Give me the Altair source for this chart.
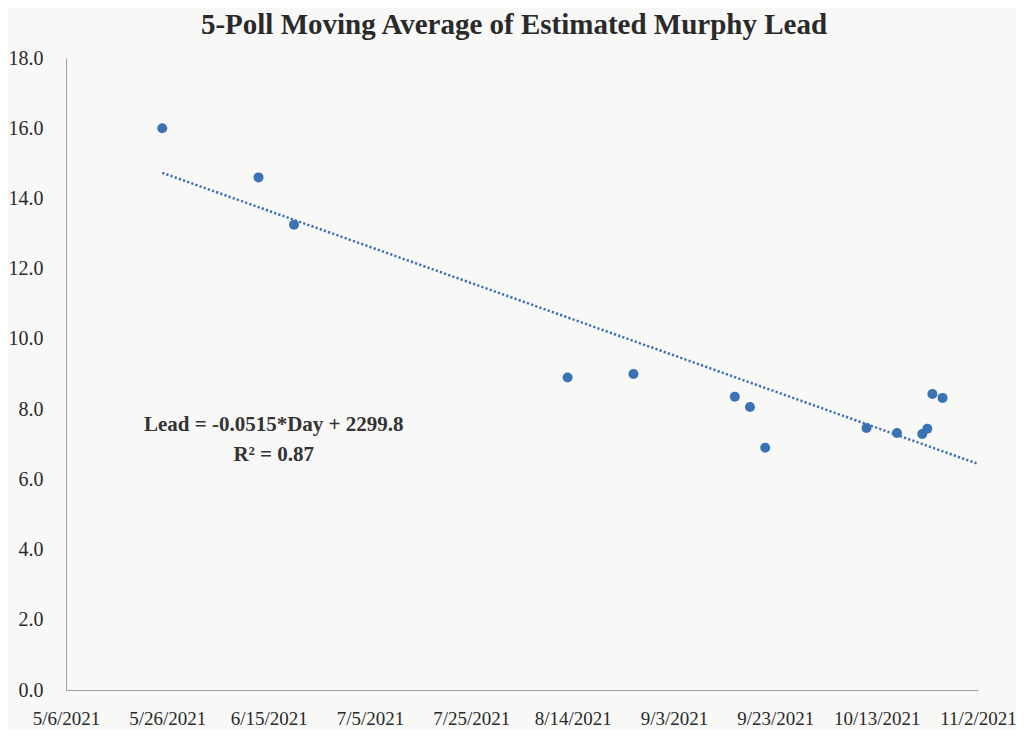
import altair as alt
import pandas as pd

# Data
dates = ["2021-05-25", "2021-06-13", "2021-06-20", "2021-08-13", "2021-08-26",
         "2021-09-15", "2021-09-18", "2021-09-21", "2021-10-11", "2021-10-17",
         "2021-10-22", "2021-10-23", "2021-10-24", "2021-10-26"]
leads = [16.0, 14.6, 13.25, 8.9, 9.0, 8.35, 8.06, 6.9, 7.46, 7.32, 7.29, 7.44, 8.43, 8.32]

trend_dates = ["2021-05-25", "2021-11-02"]
trend_values = [14.73, 6.44]

note_dates = ["2021-06-16", "2021-06-16"]
note_values = [7.55, 6.7]
note_texts = ["Lead = -0.0515*Day + 2299.8", "R² = 0.87"]

tick_dates = ["2021-05-06", "2021-05-26", "2021-06-15", "2021-07-05", "2021-07-25",
              "2021-08-14", "2021-09-03", "2021-09-23", "2021-10-13", "2021-11-02"]

FONT = "Liberation Serif"
BLUE = "#3b72b4"

pts = pd.DataFrame({"date": dates, "lead": leads})
trend = pd.DataFrame({"date": trend_dates, "lead": trend_values})
notes = pd.DataFrame({"date": note_dates, "lead": note_values, "text": note_texts})

def dt(s):
    y, m, d = (int(v) for v in s.split("-"))
    return alt.DateTime(year=y, month=m, date=d, utc=True)

xscale = alt.Scale(type="utc", domain=[dt(tick_dates[0]), dt(tick_dates[-1])], nice=False)
yscale = alt.Scale(domain=[0, 18], nice=False)

xaxis = alt.Axis(values=[dt(s) for s in tick_dates], format="%-m/%-d/%Y", title=None,
                 grid=False, ticks=False, labelPadding=19, labelFont=FONT, labelFontSize=19,
                 labelColor="#2a2a2a", domainColor="#a0a0a0", labelOverlap=False, labelFlush=False)
yaxis = alt.Axis(values=list(range(0, 19, 2)), format=".1f", title=None, grid=False,
                 ticks=False, labelPadding=23, labelFont=FONT, labelFontSize=20,
                 labelColor="#2a2a2a", domainColor="#a0a0a0")

x = alt.X("date:T", scale=xscale, axis=xaxis)
y = alt.Y("lead:Q", scale=yscale, axis=yaxis)

line = alt.Chart(trend).mark_line(color=BLUE, strokeWidth=2.5, strokeDash=[2.2, 2.2]).encode(
    x=x, y=y)
points = alt.Chart(pts).mark_circle(color=BLUE, size=100, opacity=1).encode(x=x, y=y)
text = alt.Chart(notes).mark_text(font=FONT, fontSize=21, fontWeight="bold", color="#333333",
                                  align="center", baseline="middle").encode(
    x=alt.X("date:T", scale=xscale), y=alt.Y("lead:Q", scale=yscale), text="text:N")

chart = alt.layer(line, points, text).properties(
    width=912, height=632,
    title=alt.TitleParams("5-Poll Moving Average of Estimated Murphy Lead", font=FONT,
                          fontSize=29, fontWeight="bold", color="#2a2a2a", anchor="middle",
                          dx=-8, offset=8),
    autosize=alt.AutoSizeParams(type="none"),
    padding={"left": 58, "top": 50, "right": 38, "bottom": 40},
    background="#f8f8f7",
).configure_view(stroke=None)

chart.save("out.html", embed_options={"renderer": "svg", "actions": False})
